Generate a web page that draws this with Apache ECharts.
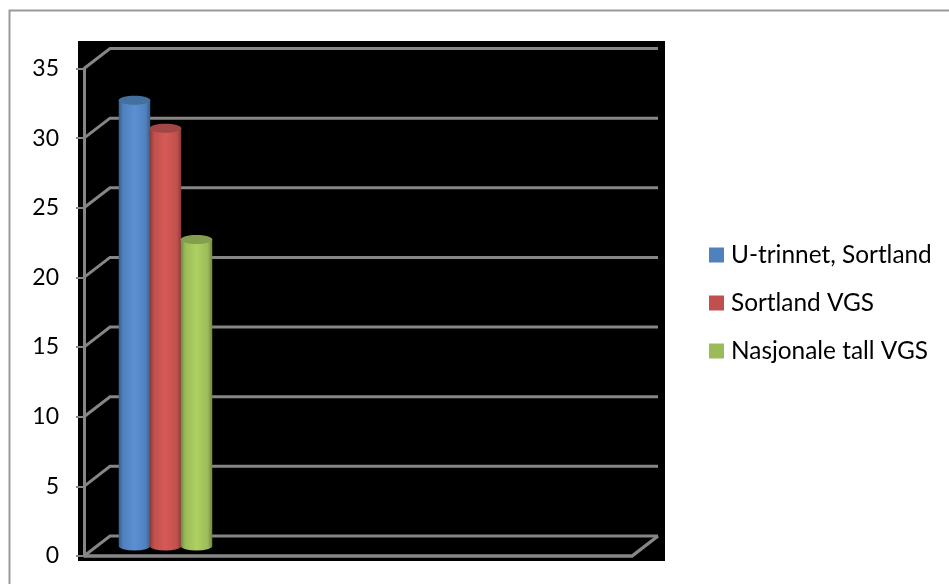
<!DOCTYPE html>
<html><head><meta charset="utf-8">
<style>html,body{margin:0;padding:0;background:#fff}#c{width:949px;height:584px}</style>
<script src="https://cdn.jsdelivr.net/npm/echarts@6/dist/echarts.min.js"></script>
</head><body><div id="c"></div>
<script>
var categories = ['', '', '', ''];
var seriesNames = ['U-trinnet, Sortland', 'Sortland VGS', 'Nasjonale tall VGS'];
var uTrinnet = [32, null, null, null];
var sortlandVgs = [30, null, null, null];
var nasjonale = [22, null, null, null];
var yTicks = [0, 5, 10, 15, 20, 25, 30, 35];
var baseColors = ['#4F81BD', '#C0504D', '#9BBB59'];
var edgeColors = ['#375E8C', '#8A3A38', '#6F8740'];
var midColors = ['#5A90D2', '#D65A56', '#ADD062'];
var topColors = ['#44709F', '#A04644', '#839E4C'];
var DX = 26, DY = 20, WIDTH_SHARE = 0.23, BAR_R_Y = 4.5;
var GRID_COLOR = '#868686';
var FONT = 'Lato';

function wall(params, api) {
  var v = api.value(0);
  var p = api.coord([0, v]);
  var cs = params.coordSys;
  var x0 = cs.x, x1 = cs.x + cs.width, y = p[1];
  var pts = [[x0, y], [x0 + DX, y - DY], [x1 + DX, y - DY]];
  var kids = [{type: 'polyline', shape: {points: pts}, style: {fill: 'none', stroke: GRID_COLOR, lineWidth: 3}}];
  if (v === 0) {
    kids.push({type: 'polyline', shape: {points: [[x0, y], [x1, y], [x1 + DX, y - DY]]},
      style: {fill: 'none', stroke: GRID_COLOR, lineWidth: 3.4}});
  }
  return {type: 'group', children: kids};
}
function cylinder(si) {
  return function (params, api) {
    var val = api.value(1);
    if (val == null || isNaN(val)) return null;
    var band = api.size([1, 0])[0];
    var w = band * WIDTH_SHARE;
    var c = api.coord([api.value(0), val]);
    var b = api.coord([api.value(0), 0]);
    var cx = c[0] + (si - 1) * (w - 0.5) + DX / 2;
    var top = c[1] - DY / 2, bot = b[1] - DY / 2;
    var r = w / 2;
    var grad = new echarts.graphic.LinearGradient(0, 0, 1, 0, [
      {offset: 0, color: edgeColors[si]},
      {offset: 0.14, color: baseColors[si]},
      {offset: 0.5, color: midColors[si]},
      {offset: 0.86, color: baseColors[si]},
      {offset: 1, color: edgeColors[si]}
    ]);
    var body = 'M' + (cx - r) + ' ' + top + 'L' + (cx - r) + ' ' + bot +
      'A' + r + ' ' + BAR_R_Y + ' 0 0 0 ' + (cx + r) + ' ' + bot +
      'L' + (cx + r) + ' ' + top + 'Z';
    return {type: 'group', children: [
      {type: 'path', shape: {pathData: body, x: cx - r, y: top, width: w, height: bot - top + BAR_R_Y}, style: {fill: grad}},
      {type: 'ellipse', shape: {cx: cx, cy: top, rx: r, ry: BAR_R_Y}, style: {fill: topColors[si]}}
    ]};
  };
}
var chart = echarts.init(document.getElementById('c'), null, {renderer: 'canvas'});
function barSeries(i, vals) {
  return {type: 'custom', name: seriesNames[i], coordinateSystem: 'cartesian2d', z: 5 + i,
    itemStyle: {color: baseColors[i]}, renderItem: cylinder(i),
    encode: {x: 0, y: 1}, data: vals.map(function (v, k) { return [k, v]; })};
}
chart.setOption({
  animation: false,
  backgroundColor: '#fff',
  graphic: {elements: [
    {type: 'polyline', z: -10, silent: true, shape: {points: [[9.5, 584], [9.5, 10.5], [949, 10.5]]}, style: {fill: 'none', stroke: '#9A9A9A', lineWidth: 2}},
    {type: 'rect', z: -9, silent: true, shape: {x: 78, y: 41, width: 587, height: 520}, style: {fill: '#000'}}
  ]},
  grid: {left: 84, right: 317, top: 68.5, bottom: 28},
  legend: {
    orient: 'vertical', left: 704, top: 238, itemWidth: 15, itemHeight: 15, itemGap: 24,
    icon: 'rect', data: seriesNames,
    textStyle: {fontFamily: FONT, fontSize: 24.4, color: '#000', padding: [0, 0, 0, 2]}
  },
  xAxis: {type: 'category', data: categories, axisLine: {show: false}, axisTick: {show: false}, axisLabel: {show: false}, splitLine: {show: false}},
  yAxis: {type: 'value', min: 0, max: 35, interval: 5,
    axisLine: {show: true, onZero: false, lineStyle: {color: GRID_COLOR, width: 3}},
    axisTick: {show: true, length: 8, lineStyle: {color: GRID_COLOR, width: 2}},
    axisLabel: {fontFamily: FONT, fontSize: 23, color: '#000', margin: 25},
    splitLine: {show: false}},
  series: [
    {type: 'custom', name: 'walls', coordinateSystem: 'cartesian2d', z: 2, renderItem: wall, encode: {y: 0},
      data: yTicks.map(function (t) { return [t]; }), silent: true},
    barSeries(0, uTrinnet), barSeries(1, sortlandVgs), barSeries(2, nasjonale)
  ]
});
</script></body></html>
